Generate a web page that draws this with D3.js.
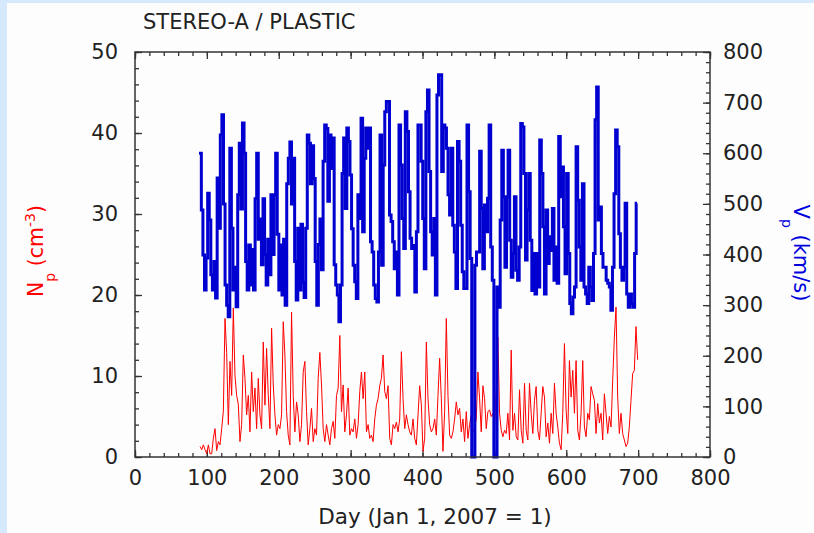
<!DOCTYPE html>
<html>
<head>
<meta charset="utf-8">
<script src="https://cdn.jsdelivr.net/npm/d3@7"></script>
<style>
  html, body { margin: 0; padding: 0; background: #d6e8fb; }
  svg { display: block; }
</style>
</head>
<body>
<svg id="chart" width="814" height="533"></svg>
<script>
// ---------------- DATA ----------------
const titleText = "STEREO-A / PLASTIC";
const xLabel = "Day (Jan 1, 2007 = 1)";
const xTicks = [0, 100, 200, 300, 400, 500, 600, 700, 800];
const npTicks = [0, 10, 20, 30, 40, 50];
const vpTicks = [0, 100, 200, 300, 400, 500, 600, 700, 800];

// Proton speed Vp (km/s), sampled every vpStep days from vpStart
const vpStart = 89, vpStep = 2.2;
const vpValues = [
  600,600,488,399,330,393,521,468,360,330,
  386,314,551,452,636,676,500,340,300,277,
  610,452,330,375,297,518,620,490,660,600,
  386,330,419,340,410,330,510,600,430,470,
  380,510,400,340,430,360,518,400,518,600,
  440,330,419,320,430,300,540,590,622,500,
  590,386,310,452,330,460,345,315,452,636,
  620,540,615,550,386,300,420,470,370,584,
  656,649,505,636,570,630,380,340,320,267,
  340,560,
  630,491,650,623,557,451,379,346,313,518,
  471,669,445,590,650,610,650,425,405,340,
  313,306,405,636,379,577,682,702,702,478,465,
  425,372,405,320,656,577,471,412,682,643,
  524,432,412,418,326,445,656,656,584,471,372,
  682,725,564,445,399,471,320,715,755,755,564,
  656,650,610,518,478,610,458,405,333,623,
  584,458,366,333,333,656,524,392,
  0,0,
  379,405,405,604,491,372,498,445,511,656,
  415,349,0,0,336,296,468,606,514,375,
  514,606,428,355,402,514,369,349,415,659,
  652,560,389,488,560,428,329,402,322,402,
  336,626,560,455,322,488,382,435,408,491,
  349,415,343,633,514,573,455,362,560,402,
  303,283,316,336,613,507,415,349,540,336,
  322,303,375,336,309,402,666,731,468,494,
  402,375,375,349,343,336,290,375,520,646,
  613,441,375,349,375,501,322,296,322,303,
  296,402,501
];

// Proton density Np (cm^-3), sampled every npStep days from npStart
const npStart = 90.5, npStep = 2.315;
const npValues = [
  1.3,0.9,1.5,0.9,0.4,1.5,0.4,0.4,2.3,3.5,
  0.8,1.9,1.5,3.5,5.6,17.1,12.9,4.0,11.8,7.6,
  18.4,10.0,7.6,6.5,1.9,4.0,12.6,9.7,5.2,7.6,
  3.1,10.5,5.6,8.5,3.5,9.7,5.2,3.5,14.2,6.4,
  13.4,7.6,3.5,15.9,8.9,5.2,2.7,4.0,3.5,5.2,
  16.7,12.6,5.6,2.7,1.5,17.9,7.6,3.1,6.8,5.2,
  1.9,4.0,10.5,11.8,5.6,1.5,3.5,6.0,1.9,3.5,
  2.7,9.7,12.9,8.9,3.5,1.9,4.0,2.7,1.5,3.5,
  4.4,2.3,7.6,8.5,15.0,5.6,8.9,
  3.1,5.2,8.5,2.7,3.5,3.1,4.7,2.3,4.0,8.1,
  10.5,7.2,10.5,3.1,4.0,2.3,2.7,1.9,4.7,6.4,
  7.2,8.8,9.7,12.6,8.1,7.2,8.8,2.3,1.5,4.0,
  3.5,4.3,3.1,4.7,13.0,7.2,3.5,5.2,4.0,3.1,
  2.7,4.7,2.3,1.5,5.2,8.8,6.4,0.7,2.3,14.2,
  7.2,4.0,3.1,3.5,4.7,2.7,7.6,12.2,7.2,0.7,
  5.6,17.1,7.6,2.7,2.3,3.1,4.7,6.8,5.2,6.0,
  3.1,4.7,1.9,5.6,2.3,4.0,5.2,3.1,3.5,4.7,
  10.5,7.2,3.1,8.8,7.2,3.5,5.6,
  5.8,5.0,5.4,3.7,8.3,14.8,5.4,3.3,2.5,3.3,
  2.9,5.4,2.1,13.2,3.3,5.4,2.5,2.1,8.3,3.3,
  1.7,9.1,3.3,2.1,9.1,5.4,2.9,7.0,8.7,3.3,
  2.1,5.4,8.7,7.4,2.5,4.2,1.7,5.4,2.9,9.1,
  5.4,3.7,1.7,0.9,5.4,14.0,5.8,2.9,11.9,7.4,
  10.7,5.4,11.9,3.3,2.1,5.4,11.9,3.7,2.5,5.4,
  4.6,8.7,7.8,7.0,2.9,6.6,4.2,5.4,2.1,7.8,
  5.4,2.9,5.0,3.7,9.5,14.8,18.5,7.4,2.9,5.4,
  2.9,2.1,1.3,1.7,3.7,7.0,10.3,10.7,16.1,12.0
];

// ---------------- CHART ----------------
const svg = d3.select("#chart");
const W = 814, H = 533;
const L = 135, R = 710, T = 52, B = 457;
const fontFam = "'DejaVu Sans', Verdana, sans-serif";
const axisColor = "#333";
const textColor = "#222";

// white panel
svg.append("rect").attr("x", 7).attr("y", 3).attr("width", W - 7).attr("height", H - 3).attr("fill", "#fdfdfd");

const x = d3.scaleLinear().domain([0, 800]).range([L, R]);
const yN = d3.scaleLinear().domain([0, 50]).range([B, T]);
const yV = d3.scaleLinear().domain([0, 800]).range([B, T]);

const xMinor = d3.range(0, 801, 20);
const nMinor = d3.range(0, 50.01, 2);
const vMinor = d3.range(0, 801, 20);

function styleAxis(g) {
  g.select(".domain").remove();
  g.selectAll("line").attr("stroke", axisColor).attr("stroke-width", 1.3);
  g.selectAll("text").attr("fill", textColor).attr("font-family", fontFam).attr("font-size", "21px");
}

// minor ticks
svg.append("g").attr("transform", `translate(0,${B})`)
  .call(d3.axisBottom(x).tickValues(xMinor).tickSize(-4).tickFormat(""))
  .call(styleAxis);
svg.append("g").attr("transform", `translate(0,${T})`)
  .call(d3.axisTop(x).tickValues(xMinor).tickSize(-4).tickFormat(""))
  .call(styleAxis);
svg.append("g").attr("transform", `translate(${L},0)`)
  .call(d3.axisLeft(yN).tickValues(nMinor).tickSize(-4).tickFormat(""))
  .call(styleAxis);
svg.append("g").attr("transform", `translate(${R},0)`)
  .call(d3.axisRight(yV).tickValues(vMinor).tickSize(-4).tickFormat(""))
  .call(styleAxis);

// major ticks + labels
svg.append("g").attr("transform", `translate(0,${B})`)
  .call(d3.axisBottom(x).tickValues(xTicks).tickSize(-7).tickPadding(13).tickFormat(d3.format("d")))
  .call(styleAxis);
svg.append("g").attr("transform", `translate(0,${T})`)
  .call(d3.axisTop(x).tickValues(xTicks).tickSize(-7).tickFormat(""))
  .call(styleAxis);
svg.append("g").attr("transform", `translate(${L},0)`)
  .call(d3.axisLeft(yN).tickValues(npTicks).tickSize(-7).tickPadding(17).tickFormat(d3.format("d")))
  .call(styleAxis);
svg.append("g").attr("transform", `translate(${R},0)`)
  .call(d3.axisRight(yV).tickValues(vpTicks).tickSize(-7).tickPadding(13).tickFormat(d3.format("d")))
  .call(styleAxis);

// data lines
const npData = npValues.map((v, i) => [npStart + i * npStep, v]);
const vpData = vpValues.map((v, i) => [vpStart + i * vpStep, v]);

svg.append("path")
  .datum(npData)
  .attr("fill", "none")
  .attr("stroke", "#ff0000")
  .attr("stroke-width", 1)
  .attr("d", d3.line().x(d => x(d[0])).y(d => yN(d[1])));

svg.append("path")
  .datum(vpData)
  .attr("fill", "none")
  .attr("stroke", "#0000d0")
  .attr("stroke-width", 3)
  .attr("stroke-linejoin", "miter")
  .attr("d", d3.line().curve(d3.curveStep).x(d => x(d[0])).y(d => yV(d[1])));

// plot frame
svg.append("rect").attr("x", L).attr("y", T).attr("width", R - L).attr("height", B - T)
  .attr("fill", "none").attr("stroke", axisColor).attr("stroke-width", 1.5);

// title
svg.append("text").attr("x", 143).attr("y", 29)
  .attr("font-family", fontFam).attr("font-size", "21px").attr("fill", textColor)
  .text(titleText);

// x label
svg.append("text").attr("x", 435).attr("y", 524)
  .attr("text-anchor", "middle")
  .attr("font-family", fontFam).attr("font-size", "21.5px").attr("fill", textColor)
  .text(xLabel);

// left y label
const yl = svg.append("text")
  .attr("transform", "translate(43,251) rotate(-90)")
  .attr("text-anchor", "middle")
  .attr("font-family", fontFam).attr("font-size", "20.5px").attr("fill", "#ff0000");
yl.append("tspan").text("N");
yl.append("tspan").attr("font-size", "14px").attr("dy", 12).text("p");
yl.append("tspan").attr("dy", -12).text(" (cm");
yl.append("tspan").attr("font-size", "14px").attr("dy", -8).text("-3");
yl.append("tspan").attr("dy", 8).text(")");

// right y label
const yr = svg.append("text")
  .attr("transform", "translate(794,253) rotate(90)")
  .attr("text-anchor", "middle")
  .attr("font-family", fontFam).attr("font-size", "21px").attr("fill", "#0000dd");
yr.append("tspan").text("V");
yr.append("tspan").attr("font-size", "14px").attr("dy", 12).text("p");
yr.append("tspan").attr("dy", -12).text(" (km/s)");
</script>
</body>
</html>
